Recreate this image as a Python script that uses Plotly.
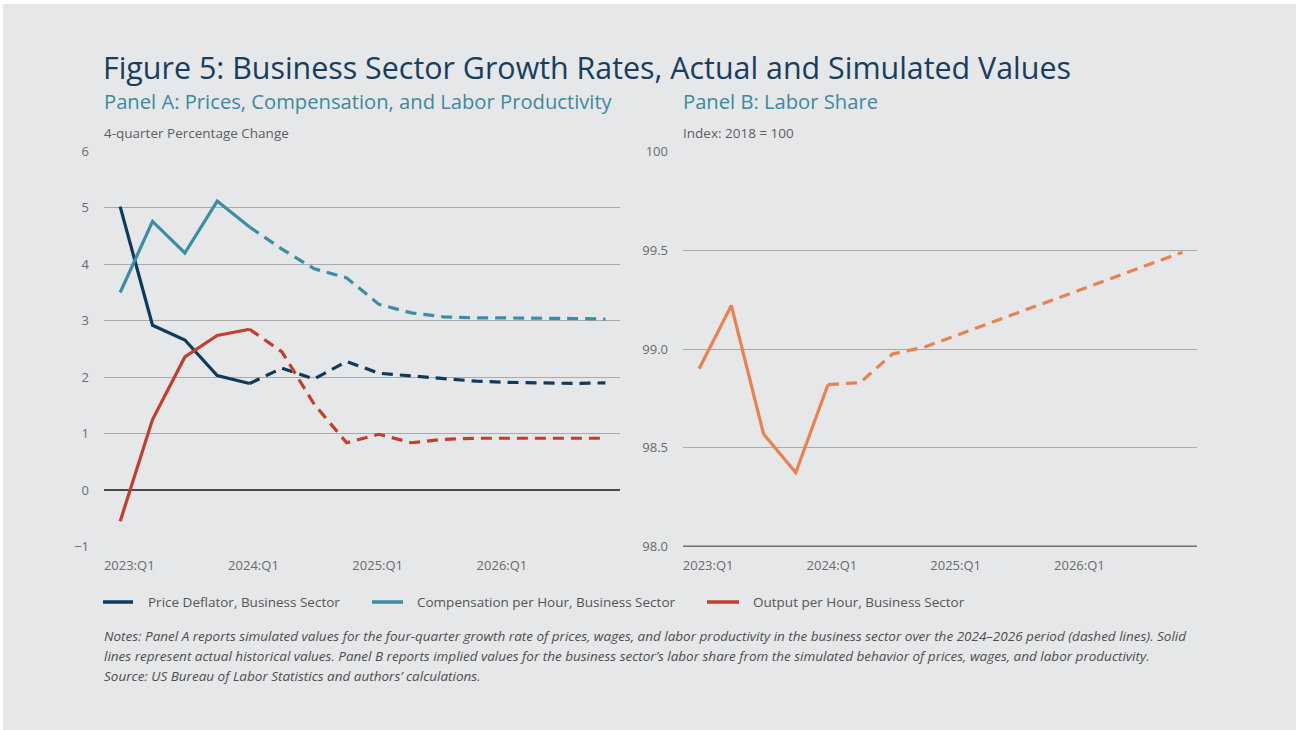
import plotly.graph_objects as go

# ---------------- data ----------------
quarters = ["2023:Q1", "2023:Q2", "2023:Q3", "2023:Q4",
            "2024:Q1", "2024:Q2", "2024:Q3", "2024:Q4",
            "2025:Q1", "2025:Q2", "2025:Q3", "2025:Q4",
            "2026:Q1", "2026:Q2", "2026:Q3", "2026:Q4"]
last_actual = 4  # index of last actual observation (2024:Q1)

price_deflator = [5.02, 2.92, 2.66, 2.03, 1.89, 2.16, 1.97, 2.28,
                  2.07, 2.02, 1.97, 1.93, 1.91, 1.90, 1.89, 1.90]
compensation = [3.50, 4.76, 4.20, 5.12, 4.66, 4.27, 3.92, 3.76,
                3.29, 3.14, 3.07, 3.05, 3.05, 3.05, 3.04, 3.03]
output_per_hour = [-0.55, 1.25, 2.36, 2.74, 2.85, 2.45, 1.52, 0.84,
                   0.99, 0.84, 0.90, 0.92, 0.92, 0.92, 0.92, 0.92]
labor_share = [98.90, 99.22, 98.57, 98.375, 98.82, 98.83, 98.975, 99.01,
               99.07, 99.13, 99.19, 99.25, 99.31, 99.37, 99.43, 99.49]

tick_labels = ["2023:Q1", "2024:Q1", "2025:Q1", "2026:Q1"]
tick_pos = [0.28, 4.12, 7.96, 11.8]

series_a = [
    ("Price Deflator, Business Sector", price_deflator, "#0F3A5B"),
    ("Compensation per Hour, Business Sector", compensation, "#3A8DA3"),
    ("Output per Hour, Business Sector", output_per_hour, "#C23F2C"),
]
share_color = "#EA8250"

# ---------------- figure ----------------
W, H = 1296, 730
BG = "#E6E7E9"
FONT = "Open Sans"
DASH = "11px,7px"

fig = go.Figure()
x = list(range(len(quarters)))

def add_series(name, vals, color, xa, ya):
    xs_a = x[: last_actual + 1]
    xs_s = x[last_actual:]
    fig.add_trace(go.Scatter(x=xs_a, y=vals[: last_actual + 1], mode="lines", name=name,
                             line=dict(color=color, width=3.2), xaxis=xa, yaxis=ya,
                             text=quarters[: last_actual + 1], hovertemplate="%{text}: %{y}<extra>" + name + "</extra>",
                             showlegend=False))
    fig.add_trace(go.Scatter(x=xs_s, y=vals[last_actual:], mode="lines", name=name + " (simulated)",
                             line=dict(color=color, width=3.2, dash=DASH), xaxis=xa, yaxis=ya,
                             text=quarters[last_actual:], hovertemplate="%{text}: %{y}<extra>" + name + "</extra>",
                             showlegend=False))

for name, vals, color in series_a:
    add_series(name, vals, color, "x", "y")
add_series("Labor Share", labor_share, share_color, "x2", "y2")

def px(v):
    return v / W

def py(v):
    return 1 - v / H

# plot area pixel boxes
A_l, A_r, B_l, B_r = 104, 620, 683, 1197
top, bot = 151, 547

grid = dict(showgrid=True, gridcolor="#A9AAAC", gridwidth=1.4)
tickfont = dict(family=FONT, size=13, color="#6A6A6A")

xcommon = dict(range=[-0.5, 15.45], tickvals=tick_pos, ticktext=tick_labels, showgrid=False,
               zeroline=False, showline=False, ticks="", tickfont=tickfont, ticklabelstandoff=9,
               fixedrange=True)

fig.update_layout(
    width=W, height=H,
    paper_bgcolor="#FFFFFF", plot_bgcolor="rgba(0,0,0,0)",
    margin=dict(l=0, r=0, t=0, b=0, autoexpand=False),
    showlegend=False,
    xaxis=dict(domain=[px(A_l), px(A_r)], anchor="y", **xcommon),
    xaxis2=dict(domain=[px(B_l), px(B_r)], anchor="y2", **xcommon),
    yaxis=dict(domain=[py(bot), py(top)], anchor="x", range=[-1.006, 6.006],
               tickvals=[-1, 0, 1, 2, 3, 4, 5, 6], ticktext=["\u22121", "0", "1", "2", "3", "4", "5", "6"],
               zeroline=True, zerolinecolor="#4A4A4A", zerolinewidth=1.6,
               ticks="", tickfont=tickfont, ticklabelstandoff=14, fixedrange=True, **grid),
    yaxis2=dict(domain=[py(bot), py(top)], anchor="x2", range=[97.998, 100.002],
                tickvals=[98.0, 98.5, 99.0, 99.5, 100], ticktext=["98.0", "98.5", "99.0", "99.5", "100"],
                zeroline=False, ticks="", tickfont=tickfont, ticklabelstandoff=14, fixedrange=True, **grid),
)

# grey card background (thin white edge at top/left as in the reference)
fig.add_shape(type="rect", xref="paper", yref="paper", x0=px(3), x1=1, y0=0, y1=py(4),
              fillcolor=BG, line=dict(width=0), layer="below")

# darker baseline on Panel B
fig.add_shape(type="line", xref="x2 domain", yref="y2", x0=0, x1=1, y0=98.0, y1=98.0,
              line=dict(color="#707174", width=2.4), layer="above")

# ---------------- text ----------------
def note(text, x0, y0, size, color, italic=False, anchor="left"):
    fig.add_annotation(xref="paper", yref="paper", x=px(x0), y=py(y0), text=text, showarrow=False,
                       xanchor=anchor, yanchor="middle",
                       font=dict(family=FONT, size=size, color=color, style="italic" if italic else "normal"))

note("Figure 5: Business Sector Growth Rates, Actual and Simulated Values", 101, 67, 30.4, "#173E5E")
note("Panel A: Prices, Compensation, and Labor Productivity", 102, 101, 20.2, "#3B8AA1")
note("Panel B: Labor Share", 681, 101, 20.2, "#3B8AA1")
note("4-quarter Percentage Change", 102, 133, 13.5, "#5E5E5E")
note("Index: 2018 = 100", 681, 133, 13.5, "#5E5E5E")

# legend (line samples + labels)
legend_items = [(103, 133, 148), (372, 403, 417), (707, 739, 753)]
for (name, vals, color), (s0, s1, tx) in zip(series_a, legend_items):
    fig.add_shape(type="line", xref="paper", yref="paper", x0=px(s0), x1=px(s1), y0=py(602), y1=py(602),
                  line=dict(color=color, width=3.5))
    note(name, tx - 2, 602, 13.5, "#555555")

notes_lines = [
    "Notes: Panel A reports simulated values for the four-quarter growth rate of prices, wages, and labor productivity in the business sector over the 2024\u20132026 period (dashed lines). Solid",
    "lines represent actual historical values. Panel B reports implied values for the business sector\u2019s labor share from the simulated behavior of prices, wages, and labor productivity.",
    "Source: US Bureau of Labor Statistics and authors\u2019 calculations.",
]
for i, t in enumerate(notes_lines):
    note(t, 102, 636 + 20 * i, 13.5, "#4D4D4D", italic=True)

fig.write_html("out.html", config={"displayModeBar": False},
               post_script="document.body.style.margin='0';document.body.style.overflow='hidden';")
